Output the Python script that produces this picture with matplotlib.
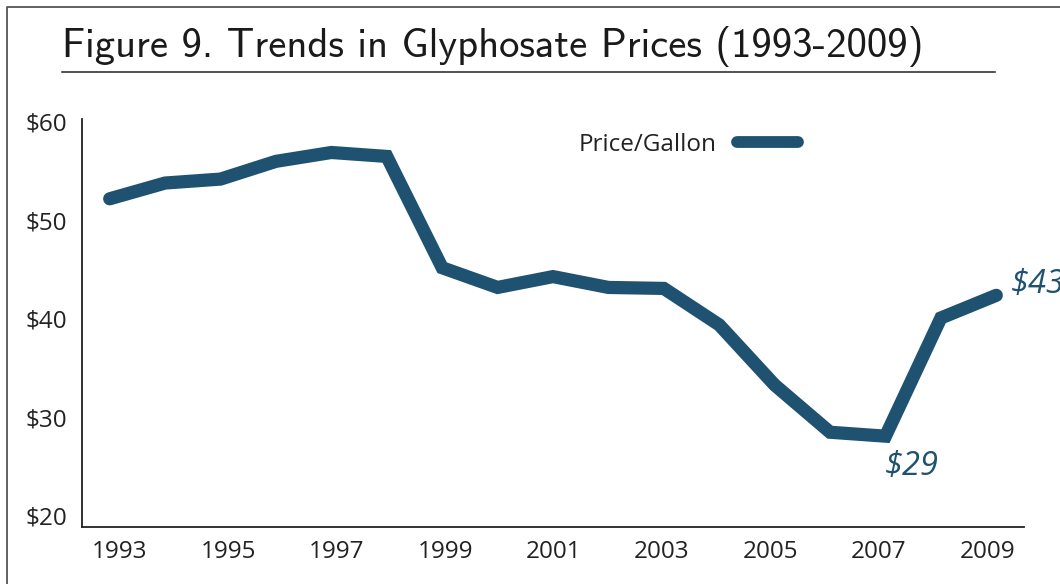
import matplotlib
matplotlib.use('Agg')
import matplotlib.pyplot as plt
from matplotlib.lines import Line2D

years = list(range(1993, 2010))
price = [52.2, 53.8, 54.2, 56.0, 56.9, 56.5, 45.2, 43.2, 44.3, 43.2, 43.1,
         39.4, 33.3, 28.5, 28.1, 40.1, 42.4]
yticks = [20, 30, 40, 50, 60]
xticks = list(range(1993, 2010, 2))
note_low = '$29'
note_end = '$43'

blue = '#1f5270'
W, H = 1060, 584

fig = plt.figure(figsize=(W / 100, H / 100), dpi=100)
ax = fig.add_axes([82 / W, 1 - 527 / H, (1024 - 82) / W, (527 - 119) / H])

ax.plot(years, price, color=blue, lw=9.5, solid_capstyle='round',
        solid_joinstyle='miter', label='Price/Gallon')

ax.set_xlim(1992.5, 2009.5)
ax.set_ylim(18.88, 60.3)
ax.set_yticks(yticks)
ax.set_yticklabels(['$%d' % v for v in yticks])
ax.set_xticks([])
ax.tick_params(length=0, labelsize=17.5, colors='#222222')
ax.tick_params(axis='y', pad=10.5)
for lab in ax.get_yticklabels():
    lab.set_fontfamily('Open Sans')
for s in ['top', 'right']:
    ax.spines[s].set_visible(False)
for s in ['left', 'bottom']:
    ax.spines[s].set_color('#222222')
    ax.spines[s].set_linewidth(1.3)

# year labels sit a little apart from the line's points, as in the source
axx = ax.twiny()
axx.set_xlim(1992.3, 2009.68)
axx.xaxis.set_ticks_position('bottom')
axx.set_xticks(xticks)
axx.set_xticklabels([str(v) for v in xticks])
axx.tick_params(length=0, labelsize=17.5, colors='#222222', pad=9)
for lab in axx.get_xticklabels():
    lab.set_fontfamily('Open Sans')
for s in axx.spines.values():
    s.set_visible(False)

leg = ax.legend(loc='center', bbox_to_anchor=(688 / W, 1 - 145 / H),
                bbox_transform=fig.transFigure, frameon=False,
                markerfirst=False, handlelength=2.5, handletextpad=0.85,
                prop={'family': 'Open Sans', 'size': 17.5})
for h in leg.get_lines():
    h.set_linewidth(8.5)
    h.set_solid_capstyle('round')
for t in leg.get_texts():
    t.set_color('#222222')

ax.annotate(note_low, xy=(years[14], price[14]), xytext=(-1, -39),
            textcoords='offset pixels', ha='left', va='baseline',
            color=blue, fontsize=23.5, style='italic', family='Open Sans')
ax.annotate(note_end, xy=(years[16], price[16]), xytext=(15, 2),
            textcoords='offset pixels', ha='left', va='baseline',
            color=blue, fontsize=23.5, style='italic', family='Open Sans',
            annotation_clip=False)

# title and rule under it
fig.text(62 / W, 1 - 57 / H, 'Figure 9. Trends in Glyphosate Prices (1993-2009)',
         family='cmss10', fontsize=29.3, color='#1a1a1a', va='baseline')
fig.add_artist(Line2D([62 / W, 995 / W], [1 - 72 / H] * 2, color='#222222', lw=1.1))

# frame cut off at right and bottom
fig.add_artist(Line2D([7 / W, 7 / W, 1.0], [0.0, 1 - 7 / H, 1 - 7 / H],
                      color='#555555', lw=1.3))

fig.savefig('out.png', dpi=100)
